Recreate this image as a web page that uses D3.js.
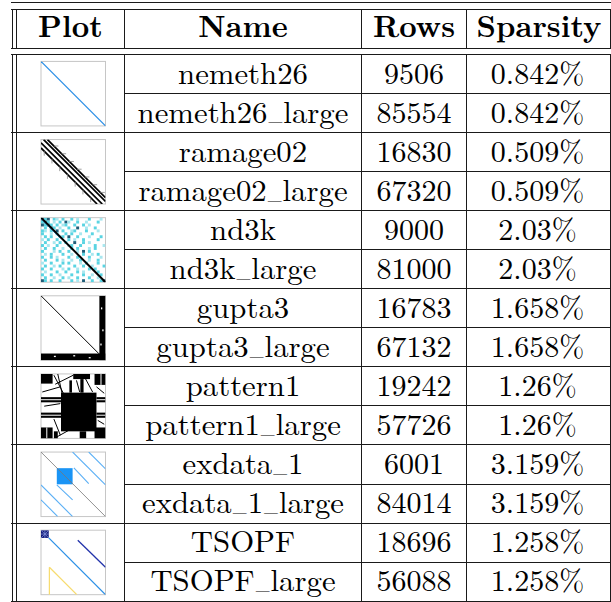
<!DOCTYPE html>
<html><head><meta charset="utf-8">
<script src="https://cdn.jsdelivr.net/npm/d3@7"></script>
<style>html,body{margin:0;padding:0;background:#fff;}svg{display:block}</style>
</head><body><svg id="c" width="611" height="602"></svg>
<script>
// ---------- table data ----------
const headers = ["Plot", "Name", "Rows", "Sparsity"];
const names = ["nemeth26", "nemeth26_large", "ramage02", "ramage02_large", "nd3k", "nd3k_large",
  "gupta3", "gupta3_large", "pattern1", "pattern1_large", "exdata_1", "exdata_1_large", "TSOPF", "TSOPF_large"];
const rowCounts = [9506, 85554, 16830, 67320, 9000, 81000, 16783, 67132, 19242, 57726, 6001, 84014, 18696, 56088];
const sparsity = ["0.842%", "0.842%", "0.509%", "0.509%", "2.03%", "2.03%", "1.658%", "1.658%",
  "1.26%", "1.26%", "3.159%", "3.159%", "1.258%", "1.258%"];
const plotMatrices = ["nemeth26", "ramage02", "nd3k", "gupta3", "pattern1", "exdata_1", "TSOPF"];

// ---------- spy-plot sketches (matrix fractions: col0,row0,col1,row1,kind) ----------
const spySegments = {
  nemeth26: [[0, 0, 1, 1, "blue"]],
  ramage02: [
    [0.10, 0, 1, 0.90, "band"], [0.04, 0, 1, 0.96, "band"], [0, 0.05, 0.95, 1, "band"], [0, 0.13, 0.87, 1, "band"],
    [0.05, 0.18, 0.05, 0.25, "hair"], [0.17, 0.30, 0.17, 0.37, "hair"], [0.29, 0.42, 0.29, 0.49, "hair"],
    [0.41, 0.54, 0.41, 0.61, "hair"], [0.53, 0.66, 0.53, 0.73, "hair"], [0.65, 0.78, 0.65, 0.85, "hair"],
    [0.77, 0.90, 0.77, 0.97, "hair"],
    [0.20, 0.10, 0.27, 0.10, "hair"], [0.32, 0.22, 0.39, 0.22, "hair"], [0.44, 0.34, 0.51, 0.34, "hair"],
    [0.56, 0.46, 0.63, 0.46, "hair"], [0.68, 0.58, 0.75, 0.58, "hair"], [0.80, 0.70, 0.87, 0.70, "hair"],
    [0.92, 0.82, 0.99, 0.82, "hair"]
  ],
  nd3k: [[0, 0, 1, 1, "bold"], [0, 0.02, 0.3, 0.32, "dark"]],
  gupta3: [[0, 0, 0.9, 0.9, "thin"]],
  pattern1: [
    [0.20, 0.02, 0.40, 0.40, "thin"], [0.26, 0.0, 0.34, 0.36, "thin"], [0.22, 0.16, 0.50, 0.02, "thin"],
    [0.02, 0.28, 0.30, 0.20, "thin"], [0.05, 0.50, 0.30, 0.46, "thin"], [0.20, 0.70, 0.30, 0.95, "thin"],
    [0.24, 0.98, 0.42, 0.88, "thin"], [0.86, 0.20, 0.98, 0.30, "thin"], [0.88, 0.72, 0.98, 0.78, "thin"],
    [0.66, 0.02, 0.80, 0.28, "thin"], [0.55, 0.10, 0.60, 0.28, "thin"],
    [0, 0.40, 0.31, 0.40, "white"], [0, 0.64, 0.31, 0.64, "white"], [0.86, 0.40, 1, 0.40, "white"],
    [0.86, 0.64, 1, 0.64, "white"], [0.93, 0.0, 0.93, 0.17, "white"], [0.09, 0.83, 0.09, 1, "white"]
  ],
  exdata_1: [
    [0, 0, 1, 1, "grey"],
    [0.49, 0, 1, 0.51, "light"], [0.74, 0, 1, 0.26, "light"], [0.51, 0.245, 0.74, 0.49, "light"],
    [0, 0.51, 0.49, 1, "light"], [0, 0.74, 0.26, 1, "light"], [0.245, 0.51, 0.49, 0.74, "light"]
  ],
  TSOPF: [
    [0.12, 0.12, 1, 1, "blue"], [0.57, 0.155, 1, 0.575, "navy"],
    [0.13, 0.575, 0.13, 1, "yellow"], [0.13, 0.575, 0.555, 1, "yellow"],
    [0, 0, 0.12, 0.12, "hatch"], [0.12, 0, 0, 0.12, "hatch"], [0.06, 0, 0.06, 0.12, "hatch"], [0, 0.06, 0.12, 0.06, "hatch"]
  ]
};
const spyBlocks = {
  gupta3: [[0.905, 0, 1, 1, "black"], [0, 0.895, 1, 1, "black"],
    [0.93, 0.18, 0.95, 0.21, "white"], [0.95, 0.52, 0.97, 0.55, "white"], [0.92, 0.74, 0.94, 0.77, "white"],
    [0.2, 0.93, 0.23, 0.95, "white"], [0.5, 0.92, 0.53, 0.94, "white"], [0.74, 0.95, 0.77, 0.97, "white"]],
  pattern1: [
    [0, 0, 0.18, 0.15, "black"], [0.83, 0, 1, 0.17, "black"], [0.50, 0, 0.76, 0.08, "black"],
    [0.31, 0.29, 0.86, 0.89, "black"], [0, 0.36, 0.31, 0.44, "black"], [0, 0.60, 0.31, 0.68, "black"],
    [0, 0.83, 0.18, 1, "black"], [0.86, 0.36, 1, 0.44, "black"], [0.86, 0.60, 1, 0.68, "black"],
    [0.83, 0.83, 1, 1, "black"], [0.20, 0.89, 0.26, 1, "black"], [0.60, 0.89, 0.70, 1, "black"],
    [0.61, 0.08, 0.66, 0.29, "black"], [0.44, 0.10, 0.48, 0.29, "black"]
  ],
  exdata_1: [[0.245, 0.25, 0.49, 0.50, "blue"]],
  TSOPF: [[0, 0, 0.12, 0.12, "navy"]]
};
// nd3k speckle pattern (c = cyan, l = pale cyan, b = dark teal, . = empty)
const nd3kSpeckle = [
  "bcb.cl.c..c.l...c...l.",
  "cbc.l.c.bl..c..l...c..",
  "bcbc.c.lc..c..c.l.....",
  ".c.bc.l..c..b..l..c...",
  "cl.c.b.c..lc...c...l..",
  "c..l.c..c.c..l...c....",
  ".c.c..lc.b..c...l...c.",
  "l.c..c...c.l..c....c..",
  ".c..l.c.c..b..c.l.....",
  "c.l..c...lc..c....c..l",
  ".c..c..l..c.c...l.c...",
  "c...l.c..c..l.b.c.....",
  ".l.c...c..l...c..l.c..",
  "c..c.l...c..c...c...l.",
  ".c...c.l..l..c..l..c..",
  "l..c...c.c...l.c...c..",
  ".c..l.c....c..c..l...c",
  "c..c...l.c..l...c.c...",
  ".l...c..c...c.l....c..",
  "c..c..l...c...c..l..c.",
  ".c..l..c.l..c...c..l..",
  "bc.c..c...c.l.b..c..cb"
];

// ---------- styles ----------
const segStyle = {
  blue: {stroke: "#2a8fe6", w: 1.2}, band: {stroke: "#000", w: 1.7}, hair: {stroke: "#8a8a8a", w: 0.8},
  bold: {stroke: "#000", w: 2.0}, dark: {stroke: "#1d4f6e", w: 1.0}, thin: {stroke: "#000", w: 1.0},
  white: {stroke: "#fff", w: 1.0}, grey: {stroke: "#777", w: 0.8}, light: {stroke: "#5aaff5", w: 1.1},
  navy: {stroke: "#2233aa", w: 1.3}, yellow: {stroke: "#f7dc6f", w: 1.2}, hatch: {stroke: "#7f8fd8", w: 0.8}
};
const blockFill = {black: "#000", white: "#fff", blue: "#1a94f5", navy: "#101a7a"};
const speckleFill = {c: "#5ad4e2", l: "#a9e7ef", b: "#1f5d78"};

// ---------- font selection (measure-based) ----------
const cv = document.createElement("canvas").getContext("2d");
function measure(txt, font) { cv.font = font; return cv.measureText(txt).width; }
function hasFont(f) {
  const probe = "nemeth26 Wgl%";
  return measure(probe, `30px "${f}", monospace`) !== measure(probe, "30px monospace");
}
const candidates = ["Latin Modern Roman", "CMU Serif", "Liberation Serif", "Tinos", "Times New Roman", "DejaVu Serif", "Noto Serif"];
const fontName = candidates.find(hasFont) || "serif";
const fontFamily = `"${fontName}", serif`;
// calibrate: digits 15px wide (as in the reference)
const digitW30 = measure("0123456789", `30px ${fontFamily}`) / 10;
const fs = 30 * 15 / digitW30;
const nameScale = 130 / measure("nemeth26", `${fs}px ${fontFamily}`);
const headScale = 125 / measure("Sparsity", `bold ${fs}px ${fontFamily}`);
const usFs = fs * 0.6; // LaTeX \_ is a short rule at the baseline

// ---------- layout ----------
const W = 611, H = 602;
const svg = d3.select("#c");
svg.append("rect").attr("width", W).attr("height", H).attr("fill", "#fff");
const colEdges = [16.5, 124.5, 361.5, 466.5, 610.5];
const bodyTop = 54.3, bodyBottom = 601.2;
const yRow = d3.scaleLinear().domain([0, names.length]).range([bodyTop, bodyBottom]);
const snap = v => Math.round(v - 0.5) + 0.5;
const lineColor = "#1a1a1a";

const gLines = svg.append("g").attr("stroke", lineColor).attr("stroke-width", 1).attr("shape-rendering", "crispEdges");
function hline(y, x0, x1) { gLines.append("line").attr("x1", x0).attr("x2", x1).attr("y1", y).attr("y2", y); }
function vline(x, y0, y1) { gLines.append("line").attr("x1", x).attr("x2", x).attr("y1", y0).attr("y2", y1); }

[2.5, 9.5, 48.5, 54.5].forEach(y => hline(y, 11, W));
d3.range(2, names.length + 1, 2).forEach(i => hline(snap(yRow(i)), 11, W));
d3.range(1, names.length, 2).forEach(i => hline(snap(yRow(i)), colEdges[1], W));
[12.5].concat(colEdges).forEach(x => { vline(x, 9.5, 48.5); vline(x, 54.5, snap(bodyBottom)); });

// header text
const colCenter = i => (colEdges[i] + colEdges[i + 1]) / 2;
const headerCenters = [70.5, 243, 414, 539];
headers.forEach((h, i) => {
  svg.append("text").text(h)
    .attr("transform", `translate(${headerCenters[i]},37) scale(${headScale},1)`)
    .attr("text-anchor", "middle").attr("font-family", fontFamily)
    .attr("font-weight", "bold").attr("font-size", fs).attr("fill", "#000");
});

// body text
names.forEach((n, i) => {
  const base = yRow(i) + 29.3;
  const t = svg.append("text")
    .attr("transform", `translate(${colCenter(1)},${base}) scale(${nameScale},1)`)
    .attr("text-anchor", "middle").attr("font-family", fontFamily).attr("font-size", fs).attr("fill", "#000");
  n.split("_").forEach((part, j) => {
    if (j > 0) t.append("tspan").text("_").attr("font-size", usFs).attr("dy", -2.2)
      .attr("dx", 1);
    t.append("tspan").text(part).attr("dy", j > 0 ? 2.2 : 0).attr("dx", j > 0 ? 1 : 0);
  });
  svg.append("text").text(rowCounts[i]).attr("x", colCenter(2)).attr("y", base)
    .attr("text-anchor", "middle").attr("font-family", fontFamily).attr("font-size", fs).attr("fill", "#000");
  svg.append("text").text(sparsity[i]).attr("x", colCenter(3) - 1).attr("y", base)
    .attr("text-anchor", "middle").attr("font-family", fontFamily).attr("font-size", fs).attr("fill", "#000");
});

// spy plots
const boxSize = 64.5, boxLeft = 41;
plotMatrices.forEach((m, k) => {
  const gTop = yRow(2 * k), gBot = yRow(2 * k + 2);
  const top = (gTop + gBot) / 2 - boxSize / 2 + 0.3;
  const sx = d3.scaleLinear().domain([0, 1]).range([boxLeft, boxLeft + boxSize]);
  const sy = d3.scaleLinear().domain([0, 1]).range([top, top + boxSize]);
  const g = svg.append("g");
  g.append("rect").attr("x", sx(0)).attr("y", sy(0)).attr("width", boxSize).attr("height", boxSize)
    .attr("fill", "#fff").attr("stroke", "#c6c6c6").attr("stroke-width", 1);
  const clip = "clip" + k;
  svg.append("clipPath").attr("id", clip).append("rect")
    .attr("x", sx(0)).attr("y", sy(0)).attr("width", boxSize).attr("height", boxSize);
  const inner = g.append("g").attr("clip-path", `url(#${clip})`);

  if (m === "nd3k") {
    const n = nd3kSpeckle.length;
    const cell = d3.scaleBand().domain(d3.range(n)).range([0, 1]);
    nd3kSpeckle.forEach((row, r) => {
      row.split("").forEach((ch, c) => {
        if (ch === ".") return;
        inner.append("rect").attr("x", sx(cell(c))).attr("y", sy(cell(r)))
          .attr("width", sx(cell.bandwidth()) - sx(0)).attr("height", sy(cell.bandwidth()) - sy(0))
          .attr("fill", speckleFill[ch]);
      });
    });
  }
  (spyBlocks[m] || []).forEach(b => {
    inner.append("rect").attr("x", sx(b[0])).attr("y", sy(b[1]))
      .attr("width", sx(b[2]) - sx(b[0])).attr("height", sy(b[3]) - sy(b[1]))
      .attr("fill", blockFill[b[4]]);
  });
  (spySegments[m] || []).forEach(s => {
    const st = segStyle[s[4]];
    inner.append("line").attr("x1", sx(s[0])).attr("y1", sy(s[1])).attr("x2", sx(s[2])).attr("y2", sy(s[3]))
      .attr("stroke", st.stroke).attr("stroke-width", st.w);
  });
});
</script></body></html>
